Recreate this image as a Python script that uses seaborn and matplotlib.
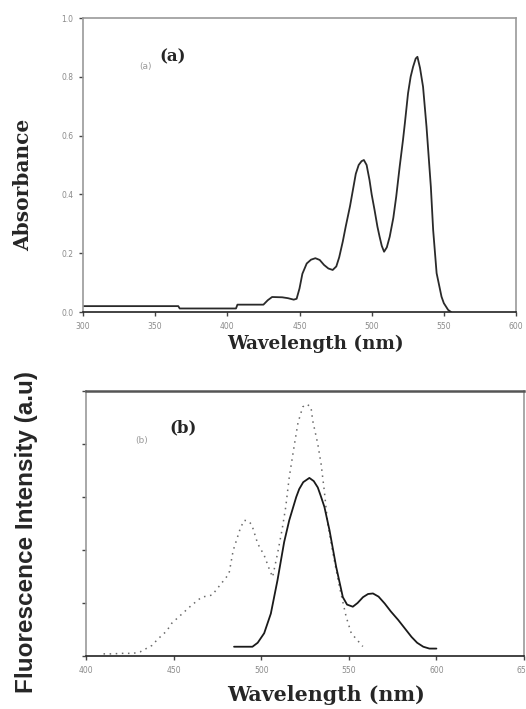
import numpy as np
import pandas as pd
import matplotlib
matplotlib.use("Agg")
import matplotlib.pyplot as plt
import seaborn as sns

# ---------------- data ----------------
abs_wavelength = [300, 366, 367, 406, 407, 425, 428, 431, 438, 442, 446, 448, 450, 452, 455,
                  458, 461, 464, 467, 470, 473, 475.5, 477.5, 480, 482, 485, 487, 489, 491,
                  493, 494.6, 496.5, 498.5, 500, 502, 504, 505.5, 507, 508.6, 510.5, 512.5,
                  515, 517, 519.4, 521.7, 523, 525.2, 527, 528.7, 530.5, 531.7, 533.5, 535.6,
                  538, 541, 542.6, 545, 548.4, 550, 553, 555]
absorbance = [0.02, 0.02, 0.012, 0.012, 0.025, 0.025, 0.04, 0.051, 0.05, 0.047, 0.042, 0.045,
              0.08, 0.13, 0.165, 0.178, 0.183, 0.177, 0.16, 0.148, 0.143, 0.155, 0.186, 0.24,
              0.29, 0.36, 0.415, 0.47, 0.50, 0.513, 0.517, 0.50, 0.449, 0.40, 0.347, 0.29,
              0.256, 0.225, 0.205, 0.22, 0.256, 0.32, 0.392, 0.494, 0.585, 0.642, 0.744, 0.80,
              0.834, 0.862, 0.868, 0.83, 0.766, 0.63, 0.426, 0.279, 0.132, 0.052, 0.03, 0.007,
              0.0]

exc_wavelength = [410, 415, 420, 427, 431, 437.7, 441, 446, 449, 454, 460, 466, 472, 478, 481.6,
                  484, 488, 490.2, 492.5, 494.6, 498, 501.7, 504.5, 506.5, 509.3, 512, 514, 516,
                  519, 521, 523.7, 526, 528.4, 529.4, 532.3, 534.2, 536, 538, 541, 544.7, 548.5,
                  551.4, 558]
excitation = [0.04, 0.04, 0.05, 0.05, 0.08, 0.2, 0.32, 0.47, 0.62, 0.77, 0.95, 1.11, 1.15, 1.40,
              1.55, 1.99, 2.40, 2.56, 2.55, 2.48, 2.12, 1.9, 1.65, 1.49, 1.93, 2.4, 2.81, 3.37,
              4.0, 4.4, 4.7, 4.75, 4.7, 4.44, 4.0, 3.62, 3.12, 2.49, 1.93, 1.30, 0.74, 0.43,
              0.18]

emi_wavelength = [484.5, 495, 498, 501.7, 505.5, 509.3, 513.1, 516, 518, 520, 521.7, 524, 527.5,
                  530, 532.3, 534, 536.1, 539, 542.8, 546.6, 549, 552.3, 555, 558.1, 561, 563.8,
                  567, 570.5, 574, 578.2, 582, 585.8, 589, 592.5, 596, 600]
emission = [0.175, 0.175, 0.25, 0.43, 0.8, 1.43, 2.15, 2.56, 2.78, 3.0, 3.15, 3.28, 3.36, 3.3,
            3.18, 3.02, 2.81, 2.37, 1.68, 1.11, 0.97, 0.93, 1.0, 1.11, 1.17, 1.18, 1.12, 0.99,
            0.84, 0.68, 0.52, 0.36, 0.25, 0.175, 0.14, 0.14]

top_xticks = [300, 350, 400, 450, 500, 550, 600]
top_yticks = [0.0, 0.2, 0.4, 0.6, 0.8, 1.0]
top_yticklabels = ["0.0", "0.2", "0.4", "0.6", "0.8", "1.0"]
bot_xticks = [400, 450, 500, 550, 600, 650]
bot_yticks = [0, 1, 2, 3, 4, 5]

# ---------------- figure ----------------
sns.set_style("ticks")
plt.rcParams["font.family"] = ["DejaVu Sans"]

W, H = 526, 709
fig = plt.figure(figsize=(W / 100, H / 100), dpi=100)

def px_axes(l, t, r, b):
    return fig.add_axes([l / W, 1 - b / H, (r - l) / W, (b - t) / H])

ax1 = px_axes(83, 18, 516, 312)
ax2 = px_axes(86, 391, 524, 656)

df_abs = pd.DataFrame({"wl": abs_wavelength, "a": absorbance})
sns.lineplot(data=df_abs, x="wl", y="a", ax=ax1, color="#2a2a2a", linewidth=1.3,
             estimator=None, sort=False)

df_exc = pd.DataFrame({"wl": exc_wavelength, "i": excitation})
df_emi = pd.DataFrame({"wl": emi_wavelength, "i": emission})
sns.lineplot(data=df_exc, x="wl", y="i", ax=ax2, color="#6a6a6a", linewidth=1.1,
             linestyle=(0, (1, 3)), estimator=None, sort=False)
sns.lineplot(data=df_emi, x="wl", y="i", ax=ax2, color="#1a1a1a", linewidth=1.3,
             estimator=None, sort=False)

tick_col = "#8a8a8a"

ax1.set_xlim(300, 600)
ax1.set_ylim(0, 1.0)
ax1.set_xticks(top_xticks)
ax1.set_xticklabels([str(t) for t in top_xticks])
ax1.set_yticks(top_yticks)
ax1.set_yticklabels(top_yticklabels)

ax2.set_xlim(400, 650)
ax2.set_ylim(0, 5)
ax2.set_xticks(bot_xticks)
ax2.set_xticklabels([str(t) for t in bot_xticks])
ax2.set_yticks(bot_yticks)
ax2.set_yticklabels([])

for ax in (ax1, ax2):
    ax.set_xlabel("")
    ax.set_ylabel("")
    ax.tick_params(axis="both", which="major", bottom=True, left=True, top=False, right=False,
                   direction="out", length=3, width=1.0, color="#444444",
                   labelsize=5.5, labelcolor=tick_col, pad=4)
    for s in ("left", "right", "top"):
        ax.spines[s].set_visible(True)
        ax.spines[s].set_color("#9a9a9a")
        ax.spines[s].set_linewidth(1.2)
    ax.spines["bottom"].set_color("#222222")
    ax.spines["bottom"].set_linewidth(1.2)
ax2.spines["top"].set_color("#555555")
ax2.spines["top"].set_linewidth(1.8)

# axis labels
fig.text(23 / W, 1 - 185 / H, "Absorbance", rotation=90, ha="center", va="center",
         family="DejaVu Serif", weight="bold", fontsize=14.5)
fig.text(315 / W, 1 - 344 / H, "Wavelength (nm)", ha="center", va="center",
         family="DejaVu Serif", weight="bold", fontsize=13.2)
fig.text(326 / W, 1 - 695 / H, "Wavelength (nm)", ha="center", va="center",
         family="DejaVu Serif", weight="bold", fontsize=14.8)
fig.text(27 / W, 1 - 532 / H, "Fluorescence Intensity (a.u)", rotation=90, ha="center",
         va="center", family="Liberation Sans", weight="bold", fontsize=17.5)

# panel labels
fig.text(146 / W, 1 - 67 / H, "(a)", ha="center", va="center", color="#9a9a9a", fontsize=6.5)
fig.text(173 / W, 1 - 57 / H, "(a)", ha="center", va="center", family="DejaVu Serif",
         weight="bold", fontsize=12)
fig.text(142 / W, 1 - 441 / H, "(b)", ha="center", va="center", color="#9a9a9a", fontsize=6.5)
fig.text(183 / W, 1 - 428 / H, "(b)", ha="center", va="center", family="DejaVu Serif",
         weight="bold", fontsize=12)

fig.savefig("out.png", dpi=100)
